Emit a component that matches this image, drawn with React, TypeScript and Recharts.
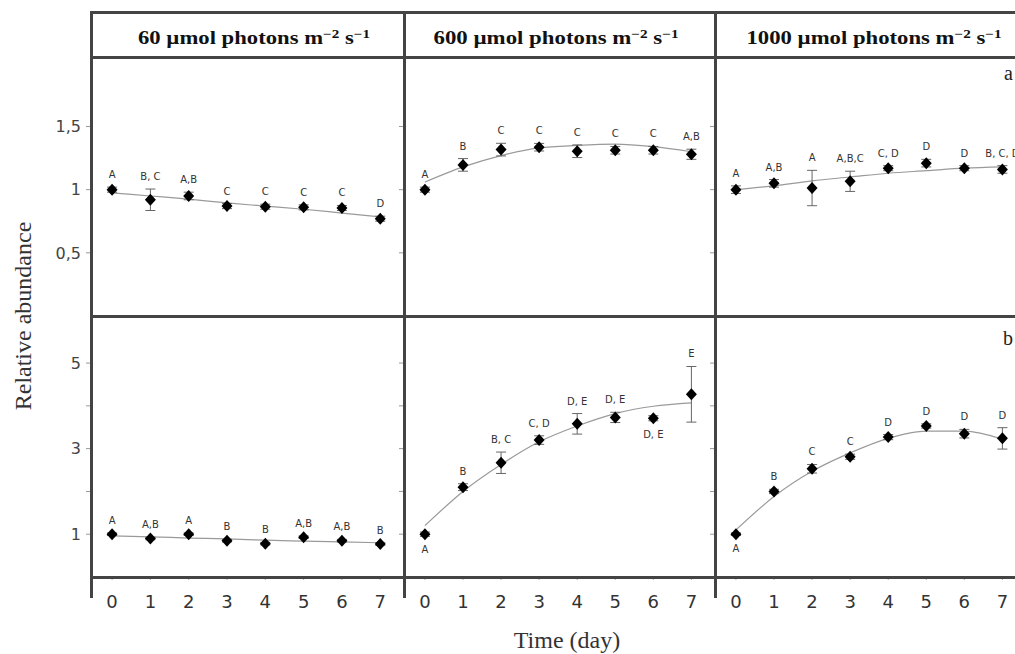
import React from 'react';
import { ComposedChart, Line, XAxis, YAxis, ErrorBar, LabelList } from 'recharts';

const days = [0, 1, 2, 3, 4, 5, 6, 7];
const topTicks = [0.5, 1, 1.5];
const bottomTicks = [1, 2, 3, 4, 5];
const titles = ['60', '600', '1000'];

// (a) top row, relative abundance
const lowA = [1.0, 0.92, 0.95, 0.87, 0.865, 0.86, 0.855, 0.77];
const lowAErr = [0.02, 0.085, 0.03, 0.02, 0.02, 0.02, 0.02, 0.02];
const lowAFit = [0.975, 0.95, 0.925, 0.895, 0.87, 0.845, 0.815, 0.785];
const lowALetters = ['A', 'B, C', 'A,B', 'C', 'C', 'C', 'C', 'D'];

const midA = [1.0, 1.196, 1.317, 1.336, 1.304, 1.312, 1.312, 1.28];
const midAErr = [0.02, 0.05, 0.05, 0.03, 0.05, 0.03, 0.03, 0.04];
const midAFit = [1.06, 1.18, 1.27, 1.33, 1.35, 1.36, 1.34, 1.3];
const midALetters = ['A', 'B', 'C', 'C', 'C', 'C', 'C', 'A,B'];

const highA = [1.0, 1.05, 1.013, 1.066, 1.17, 1.21, 1.17, 1.16];
const highAErr = [0.03, 0.03, 0.14, 0.08, 0.02, 0.03, 0.02, 0.03];
const highAFit = [1.0, 1.03, 1.07, 1.1, 1.13, 1.15, 1.17, 1.18];
const highALetters = ['A', 'A,B', 'A', 'A,B,C', 'C, D', 'D', 'D', 'B, C, D'];

// (b) bottom row
const lowB = [1.0, 0.9, 1.0, 0.85, 0.78, 0.93, 0.85, 0.77];
const lowBErr = [0.03, 0.03, 0.03, 0.03, 0.03, 0.03, 0.03, 0.03];
const lowBFit = [0.96, 0.94, 0.91, 0.89, 0.86, 0.84, 0.82, 0.8];
const lowBLetters = ['A', 'A,B', 'A', 'B', 'B', 'A,B', 'A,B', 'B'];

const midB = [1.0, 2.1, 2.67, 3.2, 3.58, 3.73, 3.71, 4.27];
const midBErr = [0.05, 0.08, 0.25, 0.1, 0.24, 0.12, 0.06, 0.65];
const midBFit = [1.2, 2.0, 2.63, 3.16, 3.53, 3.82, 3.99, 4.07];
const midBLetters = ['A', 'B', 'B, C', 'C, D', 'D, E', 'D, E', 'D, E', 'E'];
const midBBelow = [0, 6];

const highB = [1.0, 2.0, 2.53, 2.81, 3.27, 3.53, 3.35, 3.24];
const highBErr = [0.03, 0.05, 0.1, 0.06, 0.06, 0.05, 0.1, 0.25];
const highBFit = [1.1, 1.88, 2.47, 2.9, 3.24, 3.41, 3.41, 3.22];
const highBLetters = ['A', 'B', 'C', 'C', 'D', 'D', 'D', 'D'];
const highBBelow = [0];

const makeRows = (vals: number[], errs: number[], fit: number[], letters: string[], below: number[] = []) =>
  days.map((d, i) => ({
    day: d,
    v: vals[i],
    err: errs[i],
    fit: fit[i],
    letter: letters[i],
    lab: below.includes(i) ? vals[i] - errs[i] : vals[i] + errs[i],
  }));

const topRows = [
  makeRows(lowA, lowAErr, lowAFit, lowALetters),
  makeRows(midA, midAErr, midAFit, midALetters),
  makeRows(highA, highAErr, highAFit, highALetters),
];
const bottomRows = [
  makeRows(lowB, lowBErr, lowBFit, lowBLetters),
  makeRows(midB, midBErr, midBFit, midBLetters, midBBelow),
  makeRows(highB, highBErr, highBFit, highBLetters, highBBelow),
];
const belowSets = [[], midBBelow, highBBelow];

const colX = [91, 404, 715];
const colW = [313, 311, 311];
const AXW = 50;
const LINE = '#444';
const SANS = '"DejaVu Sans", sans-serif';
const SERIF = '"Liberation Serif", "Times New Roman", serif';

const Diamond = (p: any) => {
  const { cx, cy, index } = p;
  if (cx == null || cy == null) return <g key={`d-${index}`} />;
  return (
    <path
      key={`d-${index}`}
      d={`M${cx},${cy - 6}L${cx + 5.5},${cy}L${cx},${cy + 6}L${cx - 5.5},${cy}Z`}
      fill="#000"
    />
  );
};

const Empty = () => <g />;

interface PanelProps {
  rows: any[];
  below: number[];
  bottom: boolean;
  col: number;
}

const Panel: React.FC<PanelProps> = ({ rows, below, bottom, col }) => {
  const plotH = bottom ? 261 : 259;
  const xH = bottom ? 40 : 0;
  const domain = bottom ? [0, 6.1] : [0, 2.05];
  const ticks = bottom ? bottomTicks : topTicks;
  const fmt = (v: number) => {
    if (bottom) return v % 2 === 1 ? String(v) : '';
    return String(v).replace('.', ',');
  };

  const yTick = (p: any) => (
    <text
      x={p.x}
      y={p.y}
      dy={5.8}
      textAnchor="end"
      fontFamily={SANS}
      fontSize={16}
      fill="#444"
    >
      {fmt(p.payload.value)}
    </text>
  );

  const xTick = (p: any) => (
    <text x={p.x} y={p.y} dy={24} textAnchor="middle" fontFamily={SANS} fontSize={18} fill="#333">
      {p.payload.value}
    </text>
  );

  const label = (p: any) => {
    const isBelow = below.includes(p.index);
    return (
      <text
        key={`l-${p.index}`}
        x={p.x}
        y={isBelow ? p.y + 17 : p.y - 9}
        textAnchor="middle"
        fontFamily={SANS}
        fontSize={10}
        fill="#333"
      >
        {p.value}
      </text>
    );
  };

  return (
    <div style={{ position: 'absolute', left: colX[col] - AXW, top: bottom ? 316 : 57 }}>
      <ComposedChart
        width={AXW + colW[col]}
        height={plotH + xH}
        data={rows}
        margin={{ top: 0, right: 0, bottom: 0, left: 0 }}
      >
        <XAxis
          dataKey="day"
          type="number"
          domain={[-0.55, 7.62]}
          ticks={days}
          allowDataOverflow
          axisLine={false}
          mirror={!bottom}
          height={xH}
          tickSize={bottom ? 3 : 4}
          tickMargin={4}
          tickLine={{ stroke: '#aaa' }}
          tick={bottom ? xTick : Empty}
        />
        {bottom && (
          <XAxis
            xAxisId="top"
            orientation="top"
            type="number"
            domain={[-0.55, 7.62]}
            ticks={days}
            allowDataOverflow
            axisLine={false}
            mirror
            height={0}
            tickSize={4}
            tickLine={{ stroke: '#aaa' }}
            tick={Empty}
          />
        )}
        <YAxis
          type="number"
          domain={domain}
          ticks={ticks}
          allowDataOverflow
          width={AXW}
          axisLine={false}
          tickSize={5}
          tickMargin={5}
          tickLine={{ stroke: '#999' }}
          tick={col === 0 ? yTick : Empty}
        />
        <Line
          dataKey="fit"
          type="monotone"
          stroke="#9a9a9a"
          strokeWidth={1.2}
          dot={false}
          isAnimationActive={false}
        />
        <Line
          dataKey="lab"
          stroke="none"
          dot={false}
          isAnimationActive={false}
        >
          <LabelList dataKey="letter" content={label} />
        </Line>
        <Line
          dataKey="v"
          stroke="none"
          dot={Diamond}
          activeDot={false}
          isAnimationActive={false}
        >
          <ErrorBar dataKey="err" width={5} stroke="#666" strokeWidth={1} />
        </Line>
      </ComposedChart>
    </div>
  );
};

const hLine = (top: number) => (
  <div key={`h${top}`} style={{ position: 'absolute', left: 90, top: top - 1, width: 940, height: 3, background: LINE }} />
);
const vLine = (left: number) => (
  <div key={`v${left}`} style={{ position: 'absolute', left: left - 1, top: 11, width: 3, height: 587, background: LINE }} />
);

const headerCenters = [254, 556, 874];
const headerWidths = [232, 245, 255];

export default function App() {
  return (
    <div style={{ position: 'relative', width: 1015, height: 654, overflow: 'hidden', background: '#fff' }}>
      <style>{'body{margin:0}'}</style>
      {[0, 1, 2].map((c) => (
        <Panel key={`t${c}`} rows={topRows[c]} below={[]} bottom={false} col={c} />
      ))}
      {[0, 1, 2].map((c) => (
        <Panel key={`b${c}`} rows={bottomRows[c]} below={belowSets[c]} bottom col={c} />
      ))}
      {[12, 57, 316, 577].map(hLine)}
      {colX.map(vLine)}
      <svg width={1015} height={654} style={{ position: 'absolute', left: 0, top: 0, pointerEvents: 'none' }}>
        {titles.map((t, i) => (
          <text
            key={t}
            x={headerCenters[i]}
            y={44}
            textAnchor="middle"
            fontFamily="Liberation Serif"
            fontWeight="bold"
            fontSize={18}
            fill="#111"
            textLength={headerWidths[i]}
            lengthAdjust="spacingAndGlyphs"
          >
            {t} µmol photons m
            <tspan fontSize={12} dy={-6}>−2</tspan>
            <tspan dy={6}> s</tspan>
            <tspan fontSize={12} dy={-6}>−1</tspan>
          </text>
        ))}
        <text x={1004} y={80} fontFamily={SERIF} fontSize={20} fill="#222">a</text>
        <text x={1003} y={345} fontFamily={SERIF} fontSize={20} fill="#222">b</text>
        <text x={567} y={648} textAnchor="middle" fontFamily={SERIF} fontSize={24} fill="#333">
          Time (day)
        </text>
        <text
          x={0}
          y={0}
          transform="translate(31,316) rotate(-90)"
          textAnchor="middle"
          fontFamily={SERIF}
          fontSize={24}
          fill="#333"
        >
          Relative abundance
        </text>
      </svg>
    </div>
  );
}
